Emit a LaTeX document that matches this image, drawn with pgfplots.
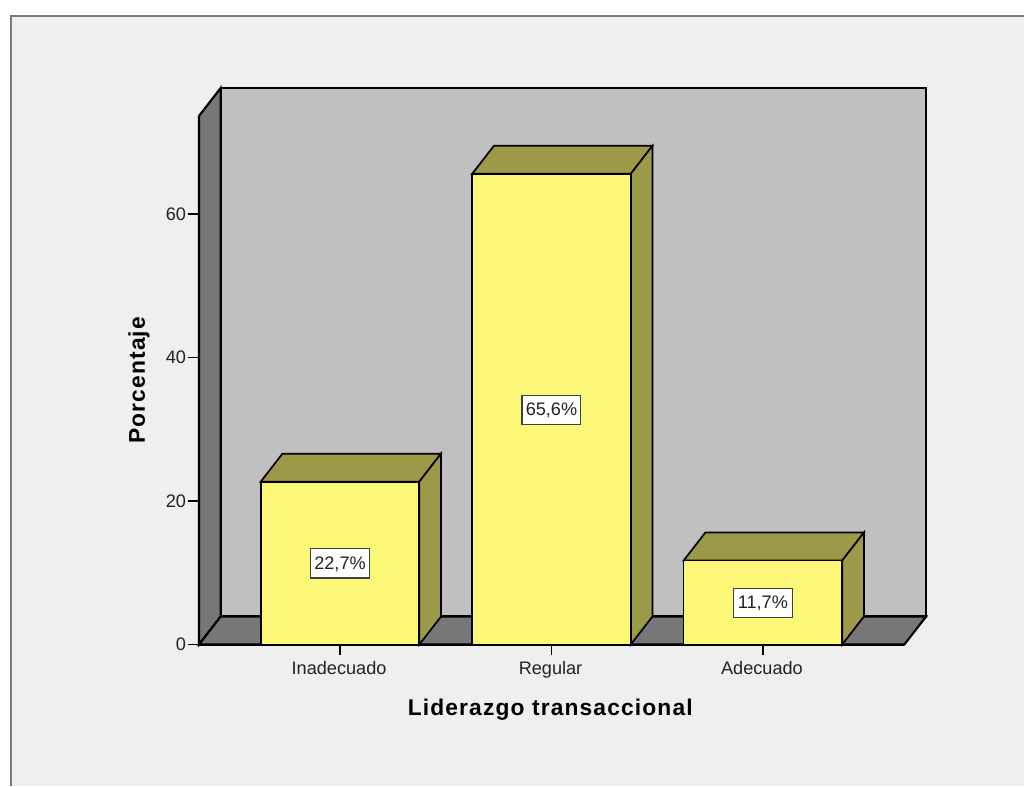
\documentclass[border=0pt]{standalone}
\usepackage{fontspec}
\setmainfont{Liberation Sans}
\newfontfamily\lblfont[LetterSpace=5]{Liberation Sans}
\usepackage{pgfplots}
\pgfplotsset{compat=1.18}
\definecolor{bgc}{HTML}{EFEFEF}
\definecolor{wallc}{HTML}{C0C0C0}
\definecolor{sidec}{HTML}{777777}
\definecolor{barc}{HTML}{FCF877}
\definecolor{darkc}{HTML}{9C9A48}
\definecolor{framec}{HTML}{7A7A7A}
\definecolor{txt}{HTML}{222222}
\begin{document}
\begin{tikzpicture}[x=0.75pt,y=0.75pt]
\path[use as bounding box,fill=white] (0,0) rectangle (1024,786);
\fill[bgc] (10.5,0) rectangle (1024,769.5);
\draw[framec,line width=1.5pt] (10.5,0) -- (10.5,769.5) -- (1024,769.5);
\begin{axis}[
  at={(149.25pt,106.1pt)},anchor=south west,
  scale only axis,
  width=529pt,height=396.4pt,
  xmin=-0.667,xmax=2.669,ymin=0,ymax=73.66,
  clip=false,
  axis x line*=bottom,axis y line*=left,
  axis line style={black,line width=1.6pt,-},
  tick align=outside,
  major tick length=8pt,
  tick style={black,line width=1.2pt},
  xtick={0,1,2},
  xticklabels={Inadecuado,Regular,Adecuado},
  ytick={0,20,40,60},
  tick label style={font=\fontsize{13.6}{15}\selectfont,text=txt},
  /pgf/number format/assume math mode=true,
  xticklabel style={yshift=-1pt,xshift=-0.7pt},
  yticklabel style={xshift=1.8pt},
  xlabel={\lblfont\bfseries Liderazgo transaccional},
  ylabel={\lblfont\bfseries Porcentaje},
  label style={font=\fontsize{17.1}{18}\selectfont,text=black},
  xlabel style={at={(axis description cs:0.498,0)},anchor=center,yshift=-49pt},
  ylabel style={at={(axis description cs:0,0.5)},anchor=center,rotate=0,yshift=45pt},
  axis on top=false,
]
% walls
\addplot[fill=sidec,draw=black,line width=1.6pt] coordinates {(-0.667,0) (-0.5645,3.9) (-0.5645,77.56) (-0.667,73.66)} -- cycle;
\addplot[fill=wallc,draw=black,line width=1.6pt] coordinates {(-0.5645,3.9) (2.7717,3.9) (2.7717,77.56) (-0.5645,77.56)} -- cycle;
\addplot[fill=sidec,draw=black,line width=1.6pt] coordinates {(-0.667,0) (2.669,0) (2.7717,3.9) (-0.5645,3.9)} -- cycle;
% bar tops
\addplot[fill=darkc,draw=black,line width=1.3pt] coordinates {(-0.375,22.7) (0.375,22.7) (0.4777,26.6) (-0.2723,26.6)} -- cycle;
\addplot[fill=darkc,draw=black,line width=1.3pt] coordinates {(0.625,65.6) (1.375,65.6) (1.4777,69.5) (0.7277,69.5)} -- cycle;
\addplot[fill=darkc,draw=black,line width=1.3pt] coordinates {(1.625,11.7) (2.375,11.7) (2.4777,15.6) (1.7277,15.6)} -- cycle;
% bar sides
\addplot[fill=darkc,draw=black,line width=1.3pt] coordinates {(0.375,0) (0.4777,3.9) (0.4777,26.6) (0.375,22.7)} -- cycle;
\addplot[fill=darkc,draw=black,line width=1.3pt] coordinates {(1.375,0) (1.4777,3.9) (1.4777,69.5) (1.375,65.6)} -- cycle;
\addplot[fill=darkc,draw=black,line width=1.3pt] coordinates {(2.375,0) (2.4777,3.9) (2.4777,15.6) (2.375,11.7)} -- cycle;
% bar fronts
\addplot[ybar,bar width=119pt,fill=barc,draw=black,line width=1.3pt] coordinates {(0,22.7) (1,65.6) (2,11.7)};
% value labels
\addplot[draw=none,mark=none,point meta=explicit symbolic,
  nodes near coords={\pgfplotspointmeta\%},
  nodes near coords align={center},
  every node near coord/.append style={anchor=center,fill=white,draw=black!75,line width=1pt,
    minimum width=44pt,minimum height=22pt,inner sep=0pt,text height=9.5pt,text depth=0.5pt,
    font=\fontsize{13.6}{15}\selectfont,text=txt}]
  coordinates {(0,11.3)[{22,7}] (1,32.7)[{65,6}] (2,5.8)[{11,7}]};
\end{axis}
\end{tikzpicture}
\end{document}
